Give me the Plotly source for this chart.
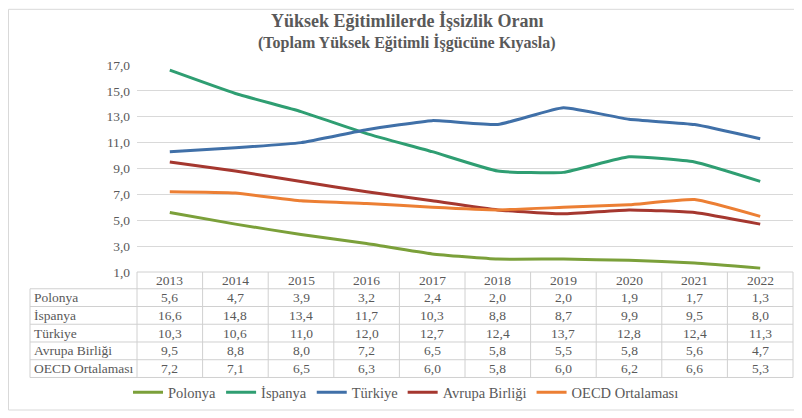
import plotly.graph_objects as go

# data
years = ["2013", "2014", "2015", "2016", "2017", "2018", "2019", "2020", "2021", "2022"]
polonya = [5.6, 4.7, 3.9, 3.2, 2.4, 2.0, 2.0, 1.9, 1.7, 1.3]
ispanya = [16.6, 14.8, 13.4, 11.7, 10.3, 8.8, 8.7, 9.9, 9.5, 8.0]
turkiye = [10.3, 10.6, 11.0, 12.0, 12.7, 12.4, 13.7, 12.8, 12.4, 11.3]
avrupa = [9.5, 8.8, 8.0, 7.2, 6.5, 5.8, 5.5, 5.8, 5.6, 4.7]
oecd = [7.2, 7.1, 6.5, 6.3, 6.0, 5.8, 6.0, 6.2, 6.6, 5.3]
series_names = ["Polonya", "İspanya", "Türkiye", "Avrupa Birliği", "OECD Ortalaması"]
y_ticks = [1, 3, 5, 7, 9, 11, 13, 15, 17]

series = [polonya, ispanya, turkiye, avrupa, oecd]
colors = ["#7BA03A", "#2F9E72", "#4070A8", "#A5372F", "#EC7F34"]

FONT = "Liberation Serif"
GREY = "#595959"
GRID = "#D9D9D9"

# the page body has an 8px margin, so the figure starts at (8, 8) in the window
OFF = 8
W, H = 802 - OFF, 418 - OFF
# plot area in window pixels
L, R, T, B = 137, 793, 65, 275

def fx(px):
    return (px - L) / (R - L)

def fy(py):
    return (B - py) / (B - T)

fig = go.Figure()
xs = list(range(len(years)))
for name, vals, col in zip(series_names, series, colors):
    fig.add_trace(go.Scatter(
        x=xs, y=vals, name=name, mode="lines",
        line=dict(color=col, width=3, shape="spline", smoothing=0.4),
        hoverinfo="skip",
    ))

# data table below the plot
cw = (R - L) / len(years)
head_top, head_bot = 275, 292
row_h = 18
tab_left = 30
rows_bottom = head_bot + row_h * len(series)
line_style = dict(color="#D0D0D0", width=1)
shapes = []
shapes.append(dict(type="line", xref="paper", yref="paper", x0=fx(L), x1=fx(R),
                   y0=fy(head_top), y1=fy(head_top), line=line_style))
for i in range(len(series) + 1):
    y = head_bot + i * row_h
    shapes.append(dict(type="line", xref="paper", yref="paper", x0=fx(tab_left), x1=fx(R),
                       y0=fy(y), y1=fy(y), line=line_style))
shapes.append(dict(type="line", xref="paper", yref="paper", x0=fx(tab_left), x1=fx(tab_left),
                   y0=fy(head_bot), y1=fy(rows_bottom), line=line_style))
for j in range(len(years) + 1):
    x = L + j * cw
    shapes.append(dict(type="line", xref="paper", yref="paper", x0=fx(x), x1=fx(x),
                       y0=fy(head_top), y1=fy(rows_bottom), line=line_style))
# outer frame
shapes.append(dict(type="rect", xref="paper", yref="paper", x0=fx(OFF + 0.5), x1=fx(798),
                   y0=fy(OFF + 0.5), y1=fy(415), line=dict(color="#D9D9D9", width=1)))

annotations = []
tfont = dict(family=FONT, size=13.5, color=GREY)
for j, yr in enumerate(years):
    annotations.append(dict(xref="paper", yref="paper", x=fx(L + (j + 0.5) * cw),
                            y=fy((head_top + head_bot) / 2), text=yr, showarrow=False,
                            font=tfont, xanchor="center", yanchor="middle"))
for i, (name, vals) in enumerate(zip(series_names, series)):
    yc = head_bot + (i + 0.5) * row_h
    annotations.append(dict(xref="paper", yref="paper", x=fx(tab_left + 2), y=fy(yc),
                            text=name, showarrow=False, font=tfont,
                            xanchor="left", yanchor="middle"))
    for j, v in enumerate(vals):
        annotations.append(dict(xref="paper", yref="paper", x=fx(L + (j + 0.5) * cw), y=fy(yc),
                                text=f"{v:.1f}".replace(".", ","), showarrow=False,
                                font=tfont, xanchor="center", yanchor="middle"))

# title
annotations.append(dict(xref="paper", yref="paper", x=fx(407), y=fy(20),
                        text="<b>Yüksek Eğitimlilerde İşsizlik Oranı</b>", showarrow=False,
                        font=dict(family=FONT, size=18, color=GREY),
                        xanchor="center", yanchor="middle"))
annotations.append(dict(xref="paper", yref="paper", x=fx(407), y=fy(42.5),
                        text="<b>(Toplam Yüksek Eğitimli İşgücüne Kıyasla)</b>", showarrow=False,
                        font=dict(family=FONT, size=16, color=GREY),
                        xanchor="center", yanchor="middle"))

fig.update_layout(
    width=W, height=H,
    margin=dict(l=L - OFF, r=W - (R - OFF), t=T - OFF, b=H - (B - OFF)),
    paper_bgcolor="white", plot_bgcolor="white",
    separators=",.",
    font=dict(family=FONT, color=GREY, size=13),
    xaxis=dict(range=[-0.5, len(years) - 0.5], showgrid=False, showticklabels=False,
               zeroline=False, showline=False, fixedrange=True),
    yaxis=dict(range=[1, 17], tickvals=y_ticks, tickformat=".1f", showgrid=True,
               gridcolor=GRID, gridwidth=1, zeroline=False, showline=False,
               tickfont=dict(family=FONT, size=13.5, color=GREY), ticks="",
               ticklabelstandoff=6, fixedrange=True),
    legend=dict(orientation="h", x=fx(128), xanchor="left", y=fy(397), yanchor="middle",
                font=dict(family=FONT, size=14.5, color=GREY), bgcolor="rgba(0,0,0,0)",
                itemwidth=30),
    shapes=shapes,
    annotations=annotations,
    showlegend=True,
)

fig.write_html("out.html")
